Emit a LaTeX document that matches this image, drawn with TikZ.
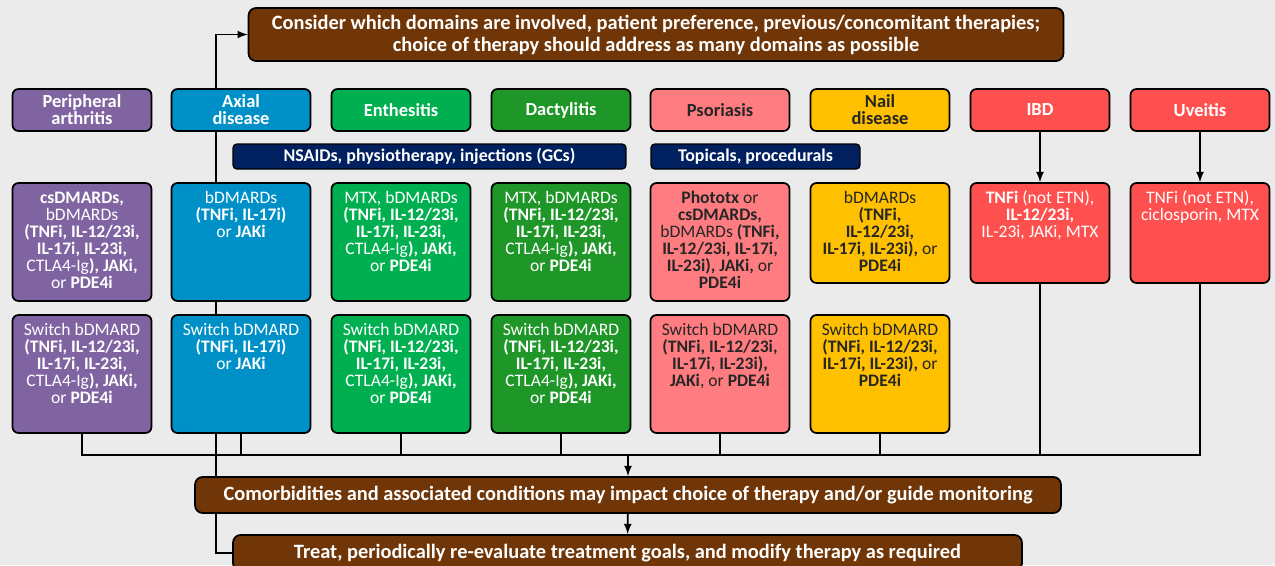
\documentclass[tikz,border=0pt]{standalone}
\usepackage{fontspec}
\setmainfont{Carlito}
\usepackage{tikz}
\usetikzlibrary{arrows,positioning}
\pgfdeclarelayer{background}
\pgfsetlayers{background,main}

\definecolor{bgc}{HTML}{EBEBEB}
\definecolor{perc}{HTML}{8064A2}
\definecolor{axc}{HTML}{0090C8}
\definecolor{entc}{HTML}{00B050}
\definecolor{dacc}{HTML}{1E9628}
\definecolor{psoc}{HTML}{FF7C80}
\definecolor{nailc}{HTML}{FFC000}
\definecolor{ibdc}{HTML}{FF5050}
\definecolor{brownc}{HTML}{703608}
\definecolor{navyc}{HTML}{002060}
\definecolor{darktxt}{HTML}{262626}

% text of a drug box, starting at the top
\newcommand{\boxtext}[2]{\parbox[c][#1][t]{2.78cm}{\centering\fontsize{10}{9.7}\selectfont\rule{0pt}{11.5pt}#2}}

\begin{document}
\begin{tikzpicture}[x=0.02cm, y=-0.02cm,
  dom/.style={draw=black, line width=1pt, rounded corners=0.12cm, minimum width=2.78cm, minimum height=0.84cm, inner sep=0pt, align=center, text=white, font=\bfseries\fontsize{10.5}{9.7}\selectfont},
  drug/.style={draw=black, line width=1pt, rounded corners=0.12cm, inner sep=0pt, text=white},
  bar/.style={draw=black, fill=navyc, line width=0.8pt, rounded corners=0.08cm, minimum height=0.5cm, inner sep=0pt, text=white, font=\bfseries\fontsize{10.2}{11}\selectfont},
  stage/.style={draw=black, fill=brownc, line width=1pt, rounded corners=0.15cm, inner sep=0pt, align=center, text=white, font=\bfseries\fontsize{11.6}{12.5}\selectfont},
  link/.style={line width=1pt},
  bus/.style={line width=1.5pt}]
\useasboundingbox (0,0) rectangle (1275,565);

% top and bottom steps
\node[stage, minimum width=16.3cm, minimum height=1.06cm] (top) at (656,34.5) {Consider which domains are involved, patient preference, previous/concomitant therapies;\\choice of therapy should address as many domains as possible};
\node[stage, minimum width=17.32cm, minimum height=0.72cm] (comor) at (628,495) {Comorbidities and associated conditions may impact choice of therapy and/or guide monitoring};
\node[stage, minimum width=15.78cm, minimum height=0.72cm] (treat) at (627.5,553) {Treat, periodically re-evaluate treatment goals, and modify therapy as required};

% domains
\node[dom, fill=perc] (pa1) at (82,110) {Peripheral\\arthritis};
\node[dom, fill=axc] (ax1) at (241,110) {Axial\\disease};
\node[dom, fill=entc] (en1) at (401,110) {Enthesitis};
\node[dom, fill=dacc] (da1) at (561,110) {Dactylitis};
\node[dom, fill=psoc, text=darktxt] (ps1) at (720,110) {Psoriasis};
\node[dom, fill=nailc, text=darktxt] (na1) at (880,110) {Nail\\disease};
\node[dom, fill=ibdc] (ib1) at (1040,110) {IBD};
\node[dom, fill=ibdc] (uv1) at (1200,110) {Uveitis};

\node[bar, minimum width=7.86cm] (nsaid) at (429.5,156.5) {NSAIDs, physiotherapy, injections (GCs)};
\node[bar, minimum width=4.18cm] (topic) at (755.5,156.5) {Topicals, procedurals};

% first line therapies
\node[drug, fill=perc] (pa2) at (82,242) {\boxtext{2.36cm}{\textbf{csDMARDs,}\\bDMARDs\\\textbf{(TNFi, IL-12/23i,}\\\textbf{IL-17i, IL-23i,}\\CTLA4-Ig\textbf{), JAKi,}\\or \textbf{PDE4i}}};
\node[drug, fill=axc] (ax2) at (241,242) {\boxtext{2.36cm}{bDMARDs\\\textbf{(TNFi, IL-17i)}\\or \textbf{JAKi}}};
\node[drug, fill=entc] (en2) at (401,242) {\boxtext{2.36cm}{MTX, bDMARDs\\\textbf{(TNFi, IL-12/23i,}\\\textbf{IL-17i, IL-23i,}\\CTLA4-Ig\textbf{), JAKi,}\\or \textbf{PDE4i}}};
\node[drug, fill=dacc] (da2) at (561,242) {\boxtext{2.36cm}{MTX, bDMARDs\\\textbf{(TNFi, IL-12/23i,}\\\textbf{IL-17i, IL-23i,}\\CTLA4-Ig\textbf{), JAKi,}\\or \textbf{PDE4i}}};
\node[drug, fill=psoc, text=darktxt] (ps2) at (720,242) {\boxtext{2.36cm}{\textbf{Phototx} or\\\textbf{csDMARDs,}\\bDMARDs \textbf{(TNFi,}\\\textbf{IL-12/23i, IL-17i,}\\\textbf{IL-23i), JAKi,} or\\\textbf{PDE4i}}};
\node[drug, fill=nailc, text=darktxt] (na2) at (880,233) {\boxtext{2.0cm}{bDMARDs\\\textbf{(TNFi,}\\\textbf{IL-12/23i,}\\\textbf{IL-17i, IL-23i),} or\\\textbf{PDE4i}}};
\node[drug, fill=ibdc] (ib2) at (1040,233) {\boxtext{2.0cm}{\textbf{TNFi} (not ETN),\\\textbf{IL-12/23i,}\\IL-23i, JAKi, MTX}};
\node[drug, fill=ibdc] (uv2) at (1200,233) {\boxtext{2.0cm}{TNFi (not ETN),\\ciclosporin, MTX}};

% switching
\node[drug, fill=perc] (pa3) at (82,374) {\boxtext{2.36cm}{Switch bDMARD\\\textbf{(TNFi, IL-12/23i,}\\\textbf{IL-17i, IL-23i,}\\CTLA4-Ig\textbf{), JAKi,}\\or \textbf{PDE4i}}};
\node[drug, fill=axc] (ax3) at (241,374) {\boxtext{2.36cm}{Switch bDMARD\\\textbf{(TNFi, IL-17i)}\\or \textbf{JAKi}}};
\node[drug, fill=entc] (en3) at (401,374) {\boxtext{2.36cm}{Switch bDMARD\\\textbf{(TNFi, IL-12/23i,}\\\textbf{IL-17i, IL-23i,}\\CTLA4-Ig\textbf{), JAKi,}\\or \textbf{PDE4i}}};
\node[drug, fill=dacc] (da3) at (561,374) {\boxtext{2.36cm}{Switch bDMARD\\\textbf{(TNFi, IL-12/23i,}\\\textbf{IL-17i, IL-23i,}\\CTLA4-Ig\textbf{), JAKi,}\\or \textbf{PDE4i}}};
\node[drug, fill=psoc, text=darktxt] (ps3) at (720,374) {\boxtext{2.36cm}{Switch bDMARD\\\textbf{(TNFi, IL-12/23i,}\\\textbf{IL-17i, IL-23i),}\\\textbf{JAKi}, or \textbf{PDE4i}}};
\node[drug, fill=nailc, text=darktxt] (na3) at (880,374) {\boxtext{2.36cm}{Switch bDMARD\\\textbf{(TNFi, IL-12/23i,}\\\textbf{IL-17i, IL-23i),} or\\\textbf{PDE4i}}};

% connectors
\coordinate (hub) at (628,455);
\draw[link,-latex] (ib1) -- (ib2);
\draw[link,-latex] (uv1) -- (uv2);
\draw[bus] (pa3.south) -- (pa3.south |- hub) -- (uv2.south |- hub) -- (uv2.south);
\foreach \n in {ax3,en3,da3,ps3,na3,ib2}
  \draw[bus] (\n.south) -- (\n.south |- hub);
\draw[link,-latex] (hub) -- (comor);
\draw[link,-latex] (comor) -- (treat);

\begin{pgfonlayer}{background}
\fill[bgc] (0,0) rectangle (1275,565);
\draw[link,-latex] (treat.west) -| ([xshift=-0.5cm]ax1.center) |- (top.west);
\end{pgfonlayer}
\end{tikzpicture}
\end{document}
